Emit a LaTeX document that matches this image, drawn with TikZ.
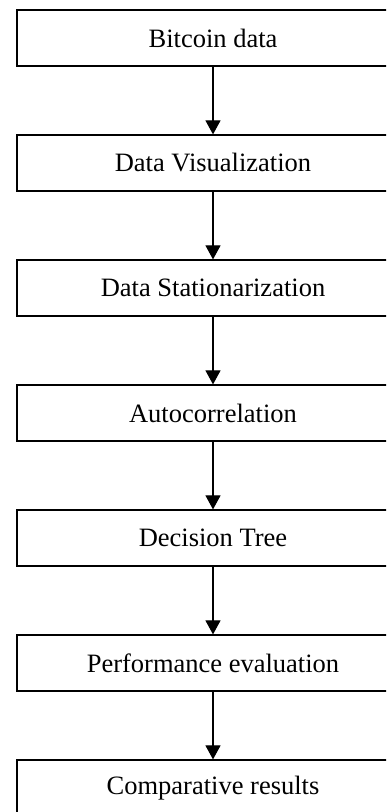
\documentclass[tikz,border=0pt]{standalone}
\usepackage{fontspec}
\setmainfont{Liberation Serif}
\usetikzlibrary{arrows.meta}
\begin{document}
\begin{tikzpicture}[x=1pt,y=1pt,
  stepbox/.style={draw, line width=1.2pt, minimum width=392pt, minimum height=56pt, inner sep=0pt, font=\fontsize{26.5}{30}\selectfont},
  flow/.style={line width=1.2pt, -{Triangle[length=14pt,width=15pt]}}]
\useasboundingbox (0,0) rectangle (386,812);
\clip (0,0) rectangle (386,812);
\node[stepbox] (b1) at (213,774) {Bitcoin data};
\node[stepbox] (b2) at (213,649) {Data Visualization};
\node[stepbox] (b3) at (213,524) {Data Stationarization};
\node[stepbox] (b4) at (213,399) {Autocorrelation};
\node[stepbox] (b5) at (213,274) {Decision Tree};
\node[stepbox] (b6) at (213,149) {Performance evaluation};
\node[stepbox] (b7) at (213,24) {Comparative results};
\draw[flow] (b1) -- (b2);
\draw[flow] (b2) -- (b3);
\draw[flow] (b3) -- (b4);
\draw[flow] (b4) -- (b5);
\draw[flow] (b5) -- (b6);
\draw[flow] (b6) -- (b7);
\end{tikzpicture}
\end{document}
